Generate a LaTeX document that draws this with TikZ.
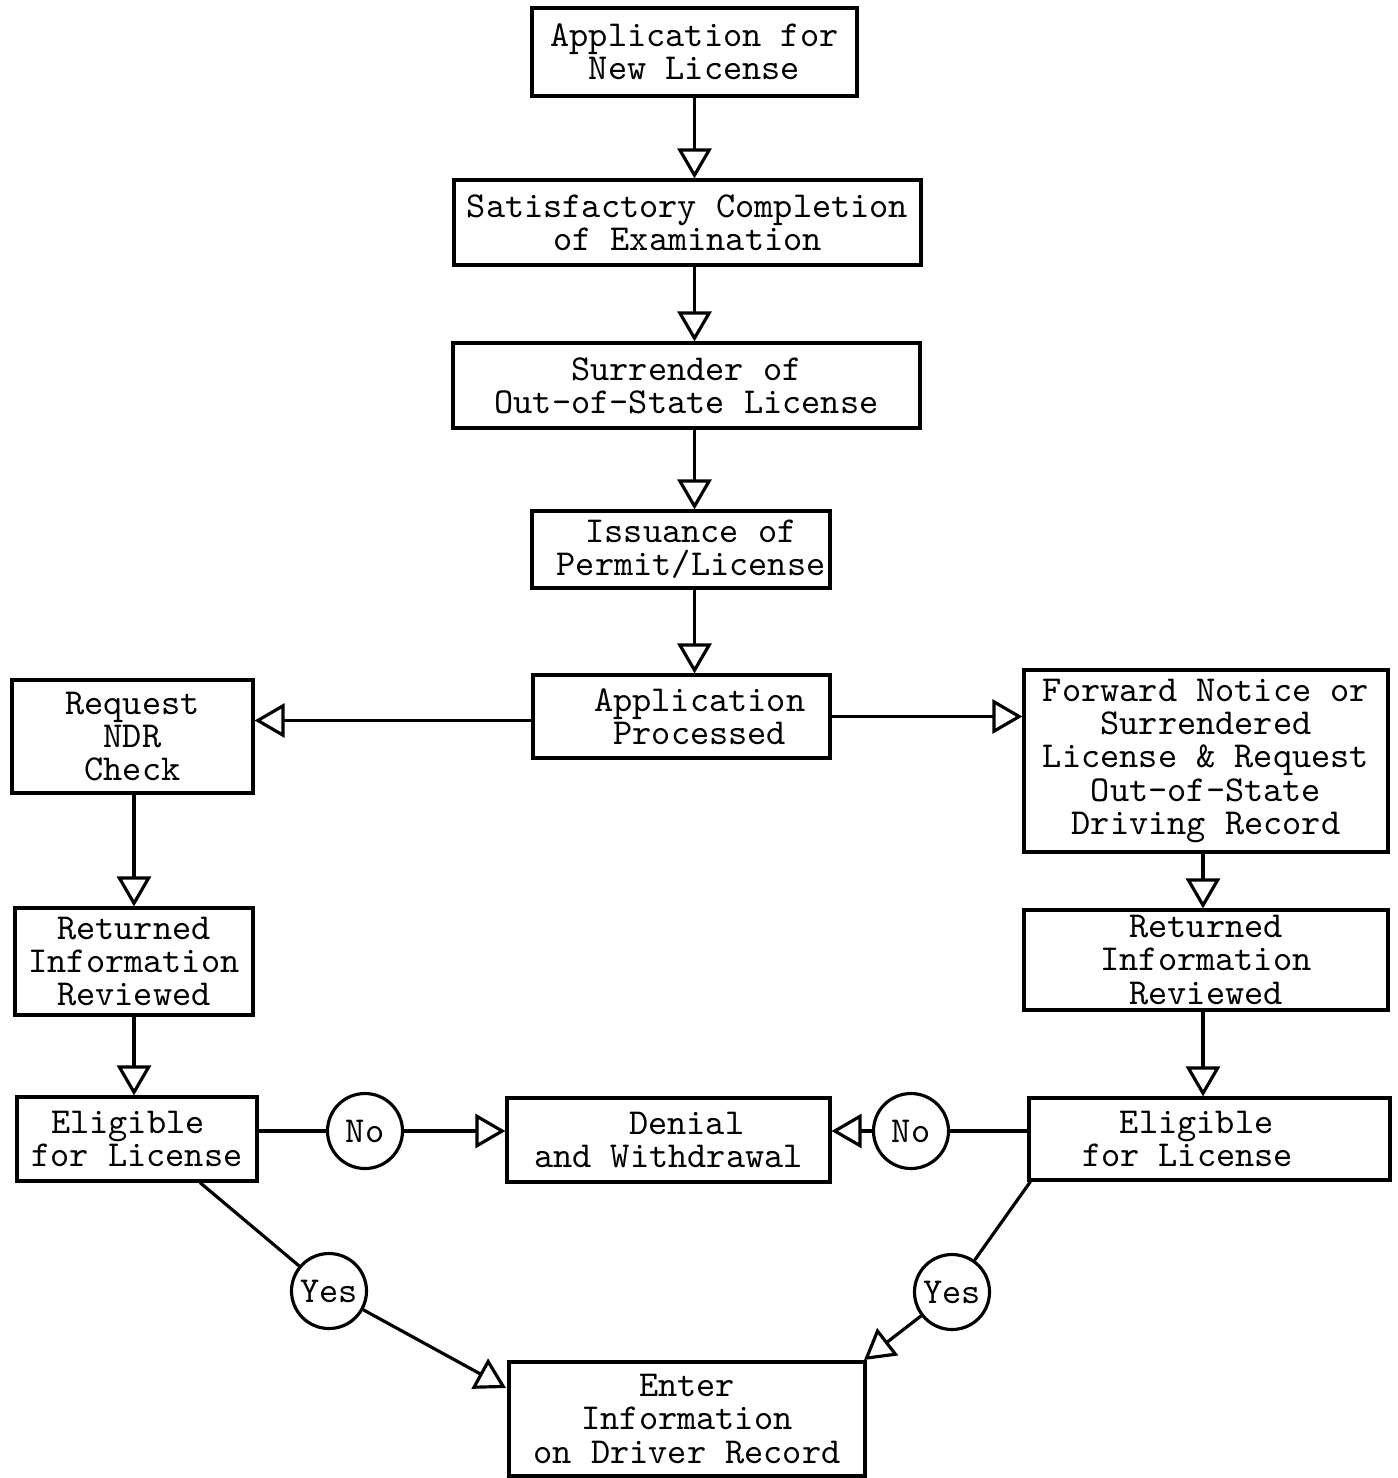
\documentclass[tikz,border=0pt]{standalone}
\usepackage{fontspec}
\usetikzlibrary{arrows.meta}
\newcommand{\myfont}{\fontsize{10.4}{9.4}\selectfont\ttfamily}
\begin{document}
\begin{tikzpicture}[
  box/.style={draw, line width=0.9pt, inner sep=0pt, align=center, font=\myfont},
  dec/.style={circle, draw, line width=0.9pt, minimum size=0.75cm, inner sep=0pt, font=\myfont},
  arr/.style={-{Triangle[open, length=3mm, width=3.4mm, line width=0.9pt]}, line width=0.9pt},
  ln/.style={line width=0.9pt}
]
\useasboundingbox (0,0) rectangle (13.97,-14.78);
\fill[white] (0,0) rectangle (13.97,-14.78);

\node[box, minimum width=3.25cm, minimum height=0.88cm] (app) at (6.945,-0.52) {Application for\\New License};
\node[box, minimum width=4.67cm, minimum height=0.85cm] (sat) at (6.875,-2.225) {Satisfactory Completion\\of Examination};
\node[box, minimum width=4.67cm, minimum height=0.85cm] (sur) at (6.865,-3.855) {Surrender of\\Out-of-State License};
\node[box, minimum width=2.98cm, minimum height=0.77cm] (iss) at (6.81,-5.495) {\hspace*{0.55em}Issuance of\\\hspace*{0.55em}Permit/License};
\node[box, minimum width=2.97cm, minimum height=0.83cm] (proc) at (6.815,-7.165) {\hspace*{1em}Application\\\hspace*{1em}Processed};
\node[box, minimum width=2.41cm, minimum height=1.13cm] (req) at (1.325,-7.365) {Request\\NDR\\Check};
\node[box, minimum width=3.64cm, minimum height=1.82cm] (fwd) at (12.06,-7.61) {Forward Notice or\\Surrendered\\License \& Request\\Out-of-State\\Driving Record};
\node[box, minimum width=2.38cm, minimum height=1.07cm] (retL) at (1.34,-9.615) {Returned\\Information\\Reviewed};
\node[box, minimum width=3.64cm, minimum height=1.0cm] (retR) at (12.06,-9.6) {Returned\\Information\\Reviewed};
\node[box, minimum width=2.40cm, minimum height=0.84cm] (eligL) at (1.37,-11.39) {Eligible\hspace*{0.5em}\\for License};
\node[box, minimum width=3.23cm, minimum height=0.84cm] (den) at (6.685,-11.40) {\hspace*{1em}Denial\\and Withdrawal};
\node[box, minimum width=3.61cm, minimum height=0.82cm] (eligR) at (12.095,-11.39) {Eligible\hspace*{0.7em}\\for License\hspace*{1.2em}};
\node[box, minimum width=3.56cm, minimum height=1.14cm] (ent) at (6.87,-14.19) {Enter\\Information\\on Driver Record};

\node[dec] (noL) at (3.65,-11.31) {No};
\node[dec] (noR) at (9.11,-11.31) {No};
\node[dec] (yesL) at (3.29,-12.91) {Yes};
\node[dec] (yesR) at (9.52,-12.92) {Yes};

\coordinate (tipL) at (5.06,-13.88);
\coordinate (tipR) at (8.64,-13.60);
\coordinate (startL) at ([xshift=0.63cm]eligL.south);
\coordinate (startR) at ([xshift=0.03cm]eligR.south west);

% main column
\draw[arr] (app.south) -- (app.south |- sat.north);
\draw[arr] (app.south |- sat.south) -- (app.south |- sur.north);
\draw[arr] (app.south |- sur.south) -- (app.south |- iss.north);
\draw[arr] (app.south |- iss.south) -- (app.south |- proc.north);

% side branches
\draw[arr] ([yshift=-0.04cm]proc.west) -- ([yshift=-0.04cm]proc.west -| req.east);
\draw[arr] (proc.east) -- (proc.east -| fwd.west);

\draw[arr] (retL.north |- req.south) -- (retL.north);
\draw[arr] (retL.south) -- (retL.south |- eligL.north);
\draw[arr] ([xshift=-0.03cm]fwd.south) -- ([xshift=-0.03cm]fwd.south |- retR.north);
\draw[arr] ([xshift=-0.03cm]retR.south) -- ([xshift=-0.03cm]retR.south |- eligR.north);

% No branches
\draw[ln] (noL -| eligL.east) -- (noL.west);
\draw[arr] (noL.east) -- (noL -| den.west);
\draw[ln] (noR -| eligR.west) -- (noR.east);
\draw[arr] (noR.west) -- (noR -| den.east);

% Yes branches
\draw[ln] (startL) -- (yesL);
\draw[arr] (yesL) -- (tipL);
\draw[ln] (startR) -- (yesR);
\draw[arr] (yesR) -- (tipR);
\end{tikzpicture}
\end{document}
